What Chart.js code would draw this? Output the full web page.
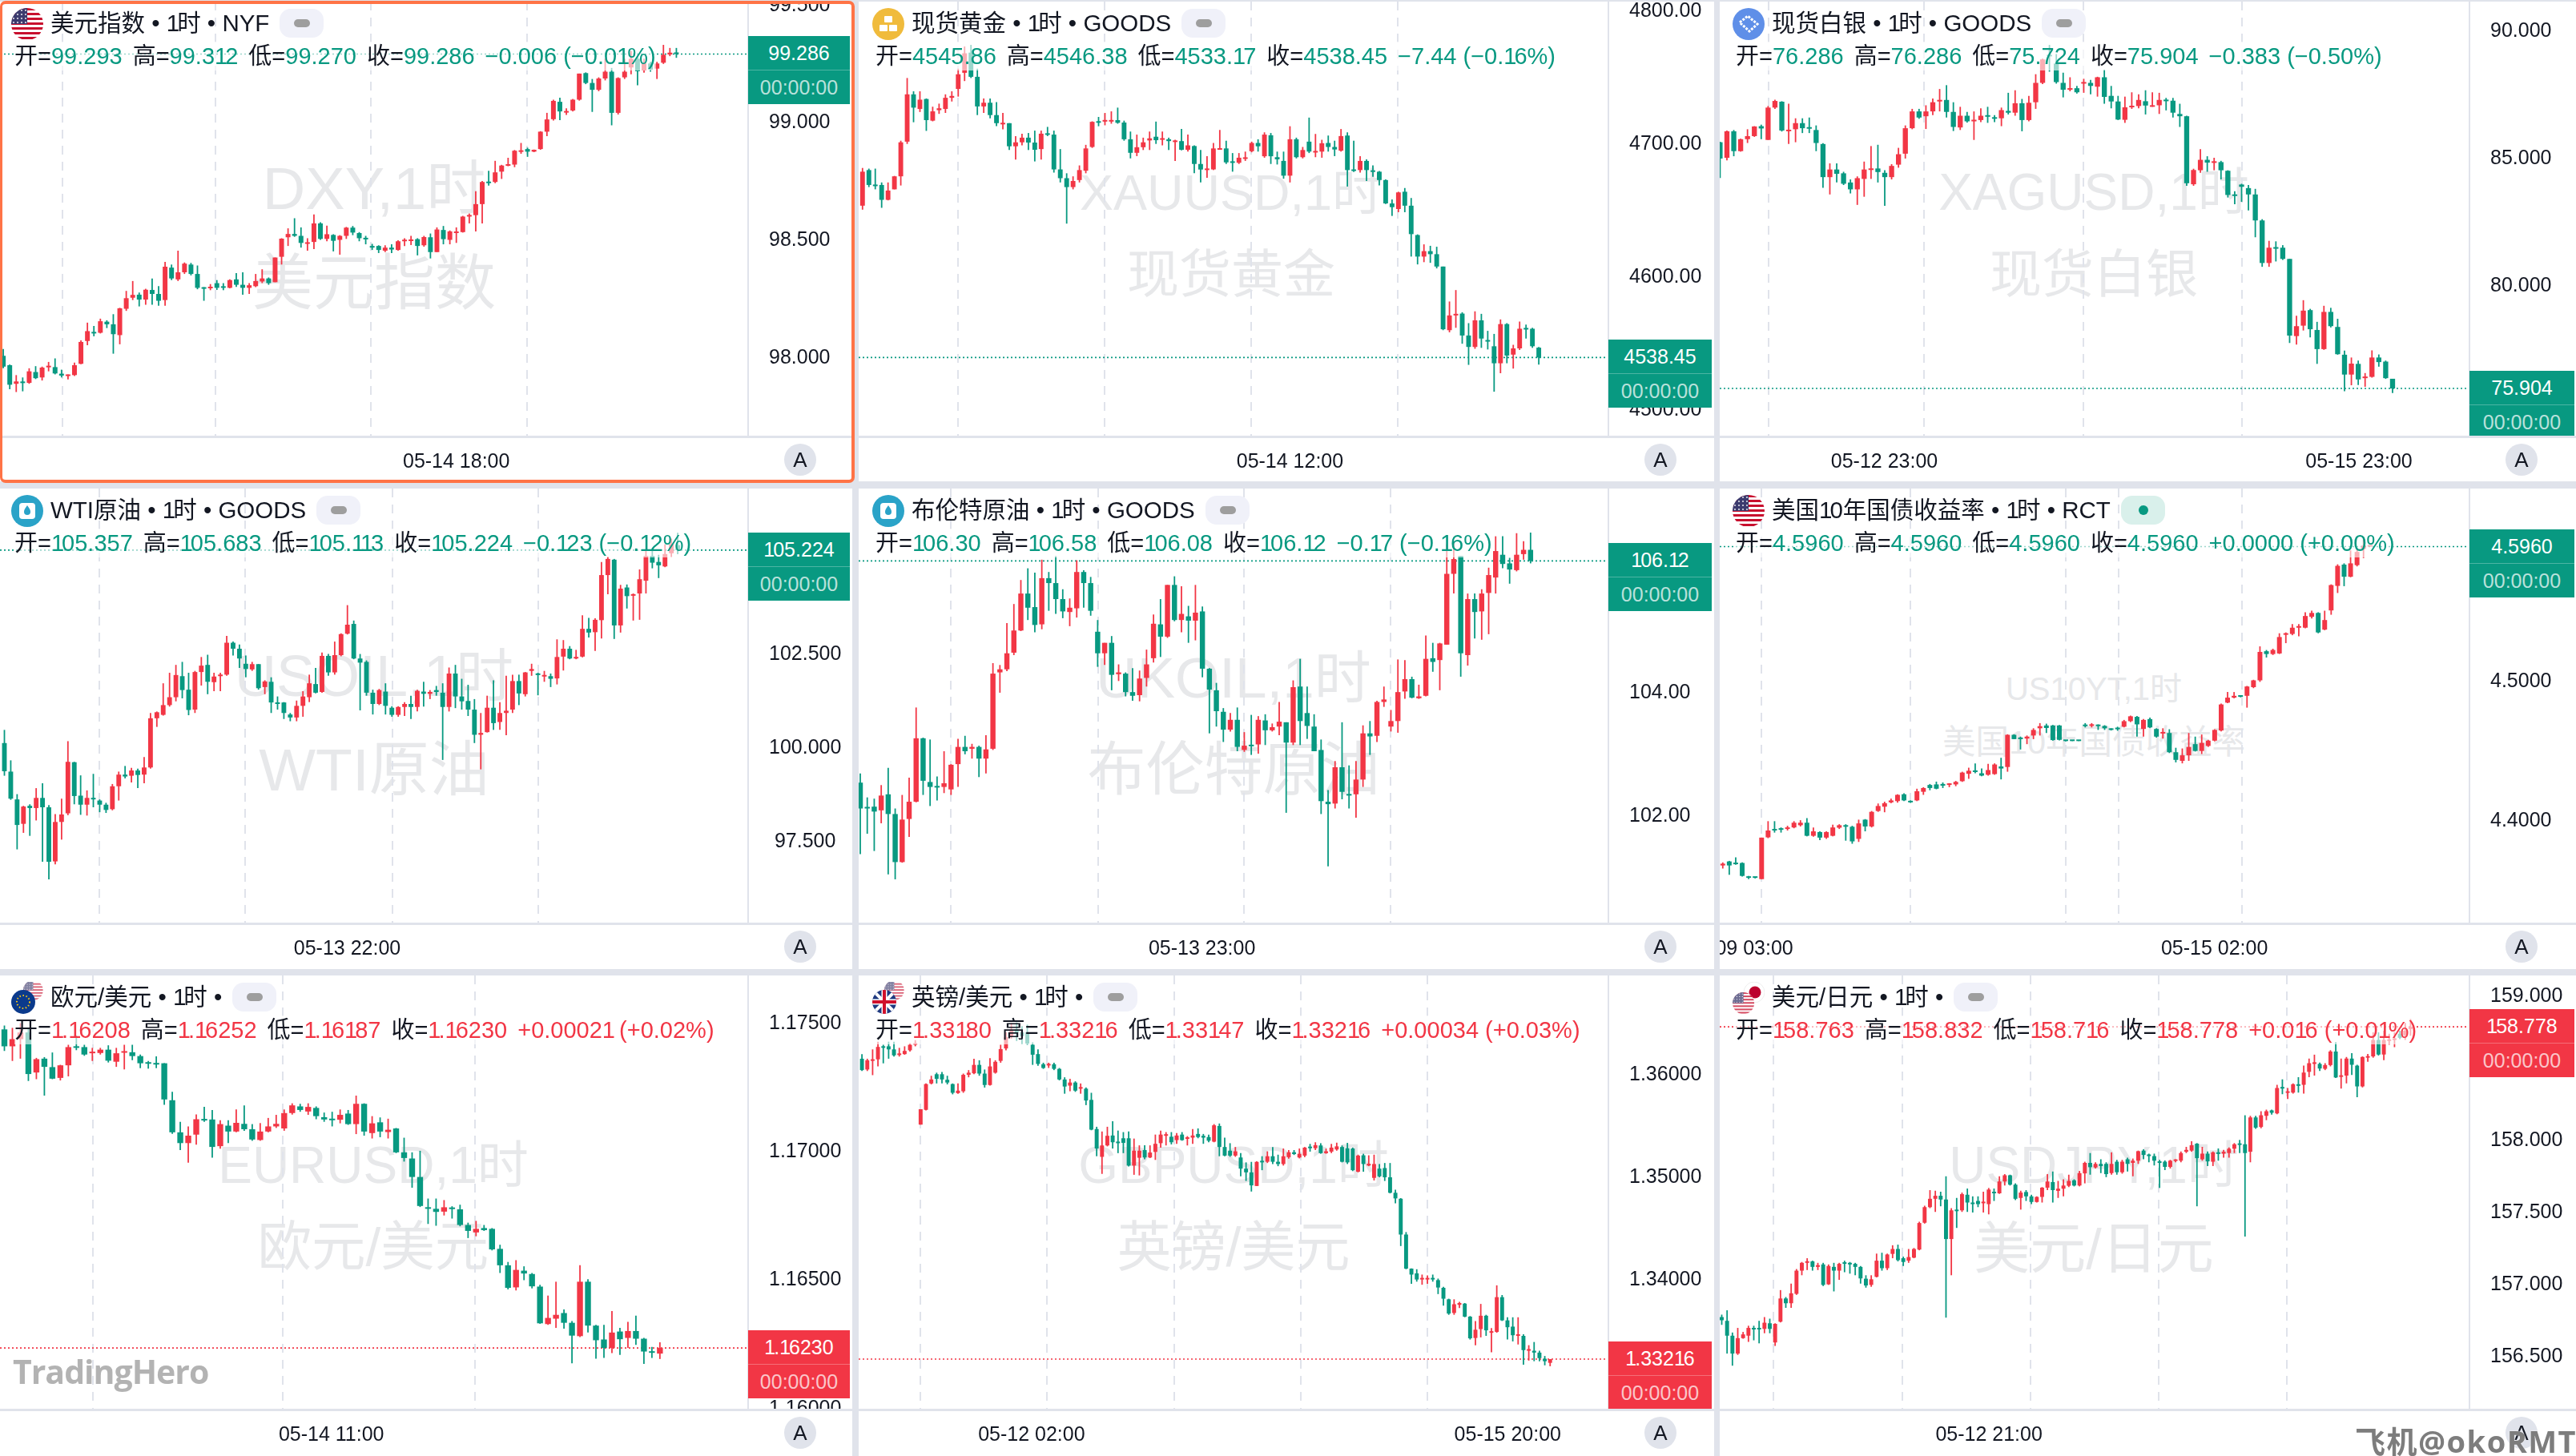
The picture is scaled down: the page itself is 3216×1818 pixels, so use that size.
<!DOCTYPE html>
<html lang="zh"><head><meta charset="utf-8">
<script src="https://cdn.jsdelivr.net/npm/chart.js@4/dist/chart.umd.min.js"></script>
<style>
html,body{margin:0;padding:0;background:#e0e3eb;width:3216px;height:1818px;overflow:hidden}
body,canvas{font-family:"Liberation Sans","Noto Sans CJK SC",sans-serif}
.panel{position:absolute;background:#fff;overflow:hidden}
.panel canvas{position:absolute;left:0;top:0;z-index:2}
.wm{position:absolute;z-index:1;color:#e7e8ea;white-space:nowrap;transform:translate(-50%,-50%);line-height:1}
.vline,.hline{position:absolute;background:#e0e3eb;z-index:3}
.head{position:absolute;z-index:5;white-space:nowrap;color:#131722;background:rgba(255,255,255,.6);line-height:36px;height:36px}
.title{font-size:29.5px;display:flex;align-items:center;background:none}
.badge{display:inline-block;width:55px;height:36px;border-radius:14px;margin-left:13px;background:#f0f1f9;position:relative;flex:none}
.badge i{position:absolute;left:18px;top:13px;width:20px;height:10px;border-radius:5px;background:#9e9e9e}
.badge.open{background:#d9f0eb}
.badge.open i{left:22px;top:12px;width:12px;height:12px;border-radius:6px;background:#089981}
.ohlc{font-size:29px}
.ohlc span{margin-right:13px}
.ohlc b{font-weight:400}
.n1{font-style:normal;letter-spacing:-3px}
.icon{position:absolute;z-index:6;width:40px;height:40px}
.tag{position:absolute;z-index:4;color:#fff;text-align:center;font-size:25px}
.tag .n1{letter-spacing:-2px}
.tag div{height:42px;line-height:42px}
.tag div+div{border-top:1px solid rgba(255,255,255,.28);color:rgba(255,255,255,.72)}
.auto{position:absolute;z-index:6;width:40px;height:40px;border-radius:20px;background:#e0e3eb;color:#131722;font-size:26px;text-align:center;line-height:40px}
#frame{position:absolute;z-index:8;left:0;top:1px;width:1060px;height:594px;border:4px solid #ff7346;border-left-width:3px;border-radius:7px}
#brand{position:absolute;z-index:9;left:16px;top:1684px;font:700 41px "Open Sans",sans-serif;color:#b3b3b3;letter-spacing:-1px}
#mark{position:absolute;z-index:9;left:2940px;top:1780px;font:700 38px/38px "Open Sans","Noto Sans CJK SC",sans-serif;color:#7d7d7d;white-space:nowrap;letter-spacing:1.5px;text-shadow:0 0 2px #fff}
</style></head><body>
<script>
// Hourly candles per instrument, one row per bar: open, high, low, close.
const dxyBars=[
[98.003,98.032,97.950,97.957],[97.963,97.966,97.861,97.880],[97.884,97.921,97.849,97.894],[97.891,97.911,97.852,97.887],[97.888,97.950,97.884,97.937],[97.934,97.959,97.904,97.908],[97.911,97.957,97.898,97.953],[97.954,97.977,97.937,97.959],[97.955,97.992,97.924,97.928],[97.927,97.944,97.911,97.919],
[97.917,97.924,97.903,97.921],[97.921,97.974,97.917,97.963],[97.969,98.069,97.967,98.062],[98.066,98.144,98.048,98.108],[98.101,98.130,98.086,98.098],[98.101,98.161,98.098,98.150],[98.148,98.154,98.121,98.137],[98.137,98.180,98.012,98.095],[98.091,98.207,98.052,98.205],[98.203,98.279,98.194,98.248],
[98.250,98.321,98.240,98.262],[98.263,98.272,98.213,98.242],[98.242,98.288,98.220,98.284],[98.283,98.332,98.220,98.266],[98.266,98.299,98.216,98.237],[98.240,98.402,98.216,98.382],[98.378,98.391,98.325,98.332],[98.328,98.450,98.321,98.358],[98.358,98.400,98.351,98.395],[98.391,98.398,98.345,98.351],
[98.351,98.387,98.286,98.292],[98.292,98.295,98.237,98.288],[98.290,98.308,98.282,98.295],[98.312,98.325,98.283,98.292],[98.297,98.312,98.282,98.292],[98.292,98.328,98.290,98.325],[98.328,98.355,98.296,98.305],[98.305,98.358,98.263,98.292],[98.292,98.312,98.266,98.303],[98.299,98.351,98.295,98.321],
[98.319,98.371,98.312,98.332],[98.332,98.336,98.305,98.312],[98.316,98.421,98.316,98.421],[98.424,98.503,98.391,98.501],[98.507,98.545,98.470,98.521],[98.521,98.588,98.509,98.513],[98.513,98.549,98.463,98.483],[98.479,98.503,98.450,98.483],[98.487,98.604,98.457,98.566],[98.566,98.571,98.496,98.500],
[98.500,98.556,98.490,98.520],[98.517,98.520,98.447,98.492],[98.496,98.516,98.433,98.513],[98.513,98.551,98.500,98.548],[98.548,98.555,98.516,98.527],[98.525,98.529,98.490,98.503],[98.501,98.513,98.477,98.498],[98.470,98.479,98.453,98.463],[98.470,98.473,98.440,98.453],[98.450,98.473,98.444,98.463],
[98.463,98.477,98.440,98.455],[98.453,98.494,98.450,98.490],[98.490,98.503,98.470,98.496],[98.491,98.513,98.474,98.496],[98.499,98.503,98.430,98.470],[98.473,98.513,98.467,98.508],[98.507,98.523,98.417,98.444],[98.444,98.549,98.444,98.540],[98.538,98.555,98.477,98.499],[98.496,98.536,98.477,98.532],
[98.525,98.549,98.483,98.529],[98.529,98.598,98.527,98.595],[98.595,98.608,98.566,98.601],[98.601,98.703,98.532,98.648],[98.648,98.746,98.566,98.742],[98.742,98.790,98.727,98.737],[98.742,98.832,98.737,98.783],[98.786,98.815,98.755,98.812],[98.811,98.845,98.809,98.816],[98.816,98.878,98.805,98.875],
[98.870,98.908,98.862,98.875],[98.882,98.888,98.849,98.871],[98.871,98.880,98.869,98.879],[98.882,98.958,98.879,98.956],[98.956,99.036,98.937,99.008],[99.009,99.092,99.003,99.087],[99.083,99.100,99.005,99.042],[99.037,99.055,99.027,99.042],[99.046,99.095,99.042,99.092],[99.092,99.203,99.088,99.203],
[99.205,99.208,99.158,99.163],[99.163,99.180,99.040,99.134],[99.134,99.187,99.128,99.182],[99.182,99.266,99.174,99.211],[99.211,99.227,98.983,99.036],[99.036,99.187,99.029,99.184],[99.187,99.266,99.180,99.211],[99.229,99.299,99.200,99.266],[99.266,99.279,99.153,99.213],[99.216,99.266,99.207,99.246],
[99.246,99.253,99.211,99.220],[99.224,99.253,99.180,99.246],[99.249,99.325,99.244,99.283],[99.284,99.312,99.277,99.292],[99.293,99.312,99.270,99.286]];
const xauBars=[
[4652.7,4681.1,4649.7,4678.3],[4679.5,4680.6,4666.7,4668.3],[4668.3,4680.6,4665.0,4667.4],[4668.3,4670.2,4651.1,4657.1],[4657.1,4670.2,4656.7,4664.1],[4665.0,4675.1,4665.0,4674.8],[4674.8,4701.6,4667.9,4700.4],[4700.9,4748.8,4699.2,4736.5],[4736.5,4738.8,4715.5,4726.5],[4725.5,4738.8,4723.2,4732.5],
[4733.0,4733.4,4709.0,4717.1],[4716.7,4727.2,4716.2,4723.7],[4724.6,4729.5,4721.8,4726.0],[4725.5,4736.5,4722.5,4733.9],[4733.9,4738.8,4731.1,4735.3],[4740.6,4755.8,4734.8,4751.6],[4752.7,4772.5,4746.5,4767.4],[4767.9,4773.7,4748.8,4749.7],[4749.7,4755.8,4720.9,4727.4],[4727.4,4733.4,4722.5,4730.2],
[4730.2,4733.4,4718.5,4720.9],[4720.9,4730.6,4712.5,4714.8],[4713.9,4722.5,4710.2,4714.8],[4714.8,4714.8,4694.6,4697.4],[4697.4,4705.1,4687.4,4700.4],[4700.4,4706.9,4698.1,4703.9],[4703.9,4707.4,4694.6,4700.2],[4700.2,4709.2,4686.0,4694.8],[4695.3,4709.2,4687.4,4706.9],[4706.9,4712.0,4705.1,4706.0],
[4706.2,4709.2,4677.6,4680.0],[4680.0,4695.3,4670.2,4673.4],[4673.4,4677.1,4639.2,4666.7],[4666.7,4674.8,4665.0,4671.3],[4672.0,4683.0,4670.2,4679.5],[4679.0,4698.5,4677.1,4695.8],[4696.9,4716.2,4696.2,4715.8],[4716.0,4719.5,4712.5,4715.1],[4716.0,4722.5,4713.2,4716.7],[4716.0,4723.7,4714.4,4716.7],
[4717.1,4726.5,4714.4,4715.1],[4715.3,4716.7,4701.6,4702.7],[4702.7,4708.5,4688.3,4692.5],[4692.5,4706.2,4690.0,4696.7],[4696.7,4703.9,4694.6,4700.4],[4701.8,4708.5,4694.6,4703.4],[4704.6,4716.0,4699.2,4702.0],[4702.3,4708.5,4698.1,4703.2],[4702.7,4703.9,4694.6,4701.3],[4700.6,4702.3,4686.4,4701.6],
[4701.3,4710.4,4694.4,4694.8],[4694.8,4706.2,4693.4,4698.1],[4697.6,4698.1,4677.1,4684.1],[4684.1,4694.6,4670.2,4679.9],[4679.5,4689.9,4673.7,4680.4],[4680.0,4699.9,4679.5,4695.8],[4694.8,4709.7,4694.8,4695.8],[4695.8,4701.6,4684.1,4685.3],[4685.8,4692.3,4678.3,4684.9],[4685.0,4692.3,4684.1,4688.8],
[4687.9,4693.4,4686.4,4688.8],[4693.7,4700.9,4692.9,4699.9],[4699.9,4702.7,4693.4,4697.4],[4689.9,4707.9,4688.8,4706.2],[4705.7,4707.4,4684.1,4689.9],[4689.2,4693.4,4683.7,4687.6],[4686.4,4693.4,4673.0,4675.3],[4675.3,4712.5,4670.2,4702.7],[4702.7,4703.9,4688.3,4689.2],[4689.2,4696.9,4688.3,4694.6],
[4700.9,4719.0,4692.3,4693.4],[4692.7,4706.7,4689.2,4693.4],[4693.4,4702.3,4688.8,4699.7],[4699.9,4705.5,4693.4,4696.9],[4696.9,4701.6,4690.0,4695.0],[4694.1,4710.4,4693.4,4705.1],[4705.5,4707.9,4667.1,4679.5],[4679.5,4701.6,4678.1,4678.8],[4679.5,4689.9,4677.6,4686.4],[4686.4,4687.6,4671.3,4679.5],
[4679.0,4683.0,4674.4,4678.1],[4678.3,4678.8,4667.9,4672.0],[4672.0,4672.5,4653.9,4654.4],[4654.4,4657.4,4645.0,4651.6],[4650.2,4663.2,4647.8,4662.7],[4663.2,4666.0,4647.8,4652.7],[4652.7,4658.5,4614.4,4631.3],[4630.6,4631.1,4608.5,4614.4],[4614.4,4623.6,4610.2,4618.5],[4618.5,4622.5,4609.7,4616.2],
[4616.2,4621.8,4605.5,4606.9],[4606.9,4606.9,4559.0,4559.7],[4559.0,4580.6,4557.4,4570.1],[4570.1,4589.2,4560.8,4571.3],[4571.5,4572.5,4548.8,4555.0],[4555.0,4564.3,4532.9,4546.4],[4546.4,4573.2,4545.0,4566.4],[4566.4,4571.3,4545.7,4552.7],[4551.5,4558.5,4544.5,4550.4],[4546.9,4556.2,4512.7,4534.1],
[4534.1,4567.1,4526.6,4563.6],[4563.6,4564.3,4534.1,4539.9],[4540.6,4548.0,4530.1,4545.3],[4545.3,4565.5,4544.1,4560.1],[4560.4,4563.2,4552.7,4559.5],[4560.1,4560.8,4545.7,4546.9],[4545.86,4546.38,4533.17,4538.45]];
const xagBars=[
[85.57,85.59,84.17,84.93],[84.96,86.03,84.86,86.00],[86.00,86.05,85.02,85.22],[85.22,85.71,85.20,85.69],[85.69,86.08,85.54,85.81],[85.81,86.20,85.78,86.19],[86.20,86.26,85.69,86.11],[85.66,86.99,85.66,86.93],[86.93,87.24,86.88,87.19],[87.16,87.18,85.99,86.03],
[86.00,87.08,85.50,86.05],[86.08,86.51,85.57,86.32],[86.32,86.51,85.93,86.12],[86.14,86.54,85.93,86.10],[86.05,86.23,85.22,85.54],[85.50,85.53,83.78,84.20],[84.20,84.74,83.52,84.50],[84.50,84.74,83.99,84.33],[84.35,84.41,83.89,83.94],[83.99,84.11,83.56,83.72],
[83.72,84.23,83.11,84.16],[84.13,84.81,83.43,84.50],[84.48,85.42,84.13,84.52],[84.54,85.47,83.99,84.40],[84.37,84.47,83.07,84.20],[84.20,84.71,84.11,84.64],[84.69,85.35,84.57,85.10],[85.12,86.23,84.93,86.12],[86.12,86.88,86.08,86.78],[86.78,86.88,86.49,86.54],
[86.59,87.02,86.09,86.78],[86.78,87.29,86.63,87.14],[87.17,87.66,86.78,87.23],[87.23,87.81,86.54,86.76],[86.76,87.14,86.01,86.17],[86.15,86.96,86.05,86.61],[86.61,86.76,86.34,86.39],[86.39,86.78,85.66,86.44],[86.44,86.90,86.36,86.61],[86.61,86.96,86.33,86.57],
[86.54,86.63,86.36,86.49],[86.51,86.93,86.20,86.83],[86.80,87.51,86.66,86.73],[86.73,87.61,86.61,87.10],[87.10,87.27,86.00,86.44],[86.44,87.39,86.39,87.12],[87.14,88.24,86.88,87.90],[87.90,88.85,87.85,88.82],[88.99,89.39,88.34,88.94],[88.66,89.03,87.87,87.93],
[87.90,88.30,87.33,87.63],[87.63,88.12,87.57,87.68],[87.69,87.78,87.48,87.53],[87.87,88.06,87.51,87.90],[87.90,88.02,87.45,87.78],[87.75,88.14,87.36,88.12],[88.12,88.42,87.08,87.35],[87.39,87.78,86.90,87.17],[87.17,87.39,86.44,86.46],[86.45,87.36,86.33,86.94],
[86.94,87.53,86.88,87.00],[86.99,87.45,86.90,87.23],[87.18,87.61,86.66,87.01],[86.96,87.53,86.96,87.02],[87.02,87.51,86.68,87.23],[87.23,87.31,86.82,87.18],[87.20,87.31,86.54,86.73],[86.68,87.08,86.17,86.59],[86.59,86.61,83.86,83.96],[83.92,84.53,83.86,84.48],
[84.47,85.30,84.37,84.88],[84.88,85.02,84.41,84.77],[84.76,84.96,84.47,84.80],[84.79,84.84,84.11,84.47],[84.45,84.47,83.40,83.50],[83.50,83.65,83.14,83.46],[83.91,83.94,83.23,83.82],[83.77,83.89,82.89,83.52],[83.52,83.74,81.84,82.50],[82.50,82.55,80.68,80.83],
[80.83,81.70,80.68,81.43],[81.41,81.68,80.89,81.39],[81.43,81.53,80.95,80.99],[80.99,80.99,77.69,77.98],[77.96,78.76,77.63,78.35],[78.37,79.37,78.18,78.96],[78.98,79.03,77.91,78.23],[78.20,78.52,76.87,77.45],[77.45,79.15,77.42,78.91],[78.91,79.07,78.30,78.35],
[78.32,78.64,77.23,77.25],[77.23,77.39,75.80,76.45],[76.45,77.12,76.03,76.88],[76.87,77.00,76.04,76.26],[76.31,76.51,75.97,76.34],[76.36,77.40,76.33,77.12],[77.12,77.24,76.76,76.94],[76.96,77.00,76.28,76.31],[76.286,76.286,75.724,75.904]];
const wtiBars=[
[100.09,100.44,99.22,99.34],[99.33,99.63,98.58,98.61],[98.59,98.73,97.26,97.91],[97.94,98.42,97.70,98.40],[98.42,98.46,97.62,98.36],[98.36,98.89,98.03,98.63],[98.63,99.02,96.93,98.38],[98.38,98.44,96.46,96.93],[96.94,98.20,96.86,97.99],[97.99,98.61,97.52,98.19],
[98.22,100.14,98.17,99.59],[99.58,99.59,98.46,98.68],[98.69,99.23,98.18,98.45],[98.45,98.83,98.16,98.63],[98.63,99.27,98.38,98.59],[98.56,98.59,98.25,98.45],[98.45,98.50,98.23,98.31],[98.33,99.00,98.30,98.94],[98.94,99.33,98.56,99.25],[99.25,99.48,99.15,99.20],
[99.22,99.43,99.04,99.36],[99.36,99.41,98.89,99.24],[99.25,99.72,99.02,99.44],[99.44,100.89,99.41,100.75],[100.75,100.93,100.52,100.91],[100.84,101.68,100.82,101.10],[101.10,101.96,101.06,101.31],[101.31,102.17,101.20,101.90],[101.87,102.25,101.28,101.50],[101.51,101.96,100.83,100.97],
[100.98,102.01,100.89,101.98],[101.98,102.38,101.62,102.15],[102.17,102.44,101.39,101.72],[101.71,101.96,101.47,101.86],[101.87,101.96,101.47,101.91],[101.91,102.94,101.88,102.76],[102.76,102.79,102.42,102.60],[102.60,102.71,102.09,102.34],[102.20,102.42,101.84,102.06],[102.05,102.25,102.01,102.19],
[102.19,102.19,101.51,101.55],[101.58,101.76,101.39,101.73],[101.72,101.84,100.89,101.17],[101.17,101.33,100.98,101.13],[101.17,101.18,100.73,100.89],[100.85,100.89,100.67,100.77],[100.77,101.22,100.67,101.08],[101.08,101.47,100.79,101.33],[101.31,101.91,101.18,101.68],[101.66,102.09,101.41,101.43],
[101.45,102.50,101.43,102.41],[102.41,102.46,101.88,101.97],[101.97,102.79,101.91,102.43],[102.43,103.01,102.40,102.99],[103.00,103.76,102.98,103.24],[103.26,103.35,102.32,102.34],[102.34,102.46,100.96,102.23],[102.25,102.29,101.35,101.43],[101.43,101.51,100.85,101.13],[101.13,101.53,101.10,101.50],
[101.46,101.68,100.85,101.08],[101.03,101.07,100.79,100.84],[100.84,101.07,100.79,101.05],[101.05,101.18,100.81,101.13],[101.13,101.35,100.73,101.05],[101.05,101.51,100.93,101.48],[101.46,101.72,101.06,101.40],[101.40,101.50,101.26,101.45],[101.50,101.61,101.35,101.45],[101.43,101.68,99.64,101.05],
[101.05,102.10,100.93,101.94],[101.94,102.17,101.02,101.33],[101.33,101.80,100.98,101.20],[101.21,101.64,100.81,100.98],[100.98,101.26,100.09,100.31],[100.31,100.89,99.39,100.36],[100.38,101.35,100.37,101.03],[101.03,101.76,100.44,100.62],[100.65,101.18,100.44,100.89],[100.89,101.88,100.30,100.95],
[100.98,101.91,100.89,101.74],[101.74,101.91,101.10,101.41],[101.39,101.98,101.33,101.97],[102.01,102.20,101.88,102.06],[101.94,101.96,101.36,101.90],[101.86,102.01,101.72,101.89],[101.87,101.94,101.58,101.80],[101.81,102.85,101.65,102.38],[102.39,102.83,102.02,102.60],[102.60,102.67,102.32,102.34],
[102.34,102.57,102.32,102.37],[102.39,103.49,102.37,103.13],[103.13,103.42,102.90,103.03],[103.04,103.41,102.54,103.37],[103.36,104.91,102.87,104.56],[104.56,105.05,104.05,104.99],[104.97,104.99,102.86,103.22],[103.22,104.30,103.03,104.20],[104.23,104.31,103.67,104.00],[104.01,104.07,103.35,104.04],
[104.07,104.71,103.37,104.45],[104.41,105.24,104.07,105.07],[105.07,105.22,104.74,104.89],[104.91,105.10,104.48,104.82],[104.79,105.38,104.77,105.12],[105.14,105.53,105.04,105.38],[105.357,105.683,105.113,105.224]];
const brentBars=[
[102.52,102.67,101.36,102.10],[102.12,102.28,101.69,102.10],[102.13,102.26,101.41,102.05],[102.07,102.48,101.86,102.31],[102.33,102.76,101.03,102.01],[102.01,102.10,100.95,101.23],[101.23,102.32,101.22,101.92],[101.93,102.60,101.64,102.21],[102.21,103.74,102.20,103.24],[103.24,103.25,102.32,102.55],
[102.53,103.22,102.14,102.45],[102.46,102.62,102.23,102.44],[102.45,103.03,102.35,102.51],[102.41,102.82,102.32,102.81],[102.82,103.23,102.45,103.10],[103.10,103.28,102.98,103.03],[103.07,103.15,102.91,103.10],[103.10,103.12,102.61,102.91],[102.91,103.29,102.67,103.06],[103.07,104.46,103.05,104.29],
[104.31,104.43,103.98,104.36],[104.36,105.11,104.33,104.62],[104.63,105.42,104.59,104.99],[104.99,105.81,104.98,105.59],[105.59,106.00,105.16,105.36],[105.37,105.93,104.96,105.08],[105.09,106.14,105.01,105.84],[105.84,105.94,105.31,105.76],[105.76,106.20,105.26,105.50],[105.50,105.66,105.19,105.30],
[105.29,105.51,105.06,105.36],[105.35,106.13,105.20,105.94],[105.94,105.97,105.36,105.76],[105.76,105.86,105.23,105.31],[104.97,105.16,104.40,104.62],[104.62,104.79,104.43,104.79],[104.79,104.90,104.02,104.27],[104.28,104.44,104.17,104.31],[104.29,104.31,103.92,103.99],[103.99,104.38,103.85,103.93],
[103.94,104.34,103.84,104.21],[104.22,104.68,104.08,104.44],[104.54,105.25,104.47,105.10],[105.09,105.50,104.56,104.89],[104.89,105.73,104.87,105.73],[105.73,105.87,105.14,105.16],[105.16,105.71,104.96,105.26],[105.22,105.39,104.79,105.15],[105.15,105.73,104.83,105.28],[105.30,105.38,104.23,104.37],
[104.37,104.38,103.32,104.03],[104.02,104.14,103.43,103.68],[103.67,103.73,103.18,103.38],[103.38,103.65,103.35,103.54],[103.54,103.74,103.03,103.10],[103.05,103.34,103.02,103.12],[103.13,103.62,102.97,103.11],[103.14,103.60,102.99,103.54],[103.53,103.63,103.13,103.37],[103.37,103.48,103.35,103.42],
[103.43,103.83,103.29,103.51],[103.50,103.50,102.03,103.17],[103.17,104.18,103.13,104.07],[104.08,104.53,103.13,103.52],[103.65,104.08,103.23,103.44],[103.43,103.63,103.03,103.03],[103.05,103.22,102.01,102.22],[102.21,102.40,101.16,102.17],[102.18,102.87,102.10,102.77],[102.77,103.50,102.25,102.37],
[102.33,102.80,102.10,102.31],[102.33,102.87,101.95,102.57],[102.57,103.45,102.45,103.32],[103.32,103.52,102.97,103.27],[103.28,103.85,103.18,103.83],[103.83,104.08,103.75,103.87],[103.43,103.70,103.35,103.52],[103.52,104.52,103.33,103.99],[104.00,104.51,103.88,104.20],[104.20,104.24,103.89,103.90],
[103.89,104.11,103.88,103.92],[103.93,104.91,103.92,104.53],[104.54,104.79,104.32,104.48],[104.51,104.79,104.02,104.78],[104.76,106.39,104.76,105.91],[105.91,106.44,105.59,106.15],[106.20,106.20,104.24,104.62],[104.59,105.59,104.42,105.50],[105.50,105.59,104.86,105.29],[105.30,105.66,104.84,105.59],
[105.60,106.01,104.93,105.89],[105.85,106.52,105.59,106.28],[106.22,106.52,106.00,106.07],[106.08,106.17,105.75,105.98],[105.97,106.57,105.95,106.22],[106.23,106.44,106.14,106.30],[106.30,106.58,106.08,106.12]];
const us10yBars=[
[4.3671,4.3693,4.3649,4.3684],[4.3700,4.3704,4.3604,4.3671],[4.3689,4.3729,4.3676,4.3680],[4.3689,4.3693,4.3591,4.3596],[4.3589,4.3596,4.3573,4.3582],[4.3587,4.3589,4.3578,4.3582],[4.3573,4.3871,4.3573,4.3871],[4.3873,4.3989,4.3867,4.3922],[4.3933,4.3989,4.3907,4.3922],[4.3938,4.3944,4.3907,4.3927],
[4.3933,4.3956,4.3922,4.3944],[4.3944,4.3989,4.3938,4.3978],[4.3960,4.3996,4.3951,4.3978],[4.3978,4.4011,4.3880,4.3884],[4.3884,4.3944,4.3878,4.3916],[4.3911,4.3916,4.3853,4.3871],[4.3871,4.3916,4.3862,4.3911],[4.3884,4.3964,4.3880,4.3944],[4.3942,4.3967,4.3933,4.3960],[4.3960,4.3967,4.3849,4.3949],
[4.3949,4.3956,4.3827,4.3844],[4.3862,4.4000,4.3840,4.3973],[4.4000,4.4004,4.3916,4.3951],[4.3951,4.4062,4.3944,4.4056],[4.4062,4.4116,4.4056,4.4098],[4.4093,4.4129,4.4053,4.4118],[4.4124,4.4151,4.4118,4.4138],[4.4133,4.4182,4.4122,4.4178],[4.4182,4.4189,4.4133,4.4138],[4.4133,4.4138,4.4120,4.4124],
[4.4138,4.4222,4.4133,4.4204],[4.4200,4.4233,4.4178,4.4227],[4.4249,4.4256,4.4211,4.4227],[4.4253,4.4273,4.4218,4.4222],[4.4256,4.4267,4.4227,4.4244],[4.4249,4.4262,4.4233,4.4256],[4.4253,4.4278,4.4240,4.4271],[4.4276,4.4344,4.4271,4.4338],[4.4329,4.4373,4.4293,4.4351],[4.4351,4.4404,4.4333,4.4342],
[4.4333,4.4367,4.4311,4.4316],[4.4322,4.4400,4.4316,4.4356],[4.4327,4.4404,4.4322,4.4396],[4.4382,4.4444,4.4289,4.4367],[4.4378,4.4613,4.4344,4.4609],[4.4609,4.4613,4.4578,4.4578],[4.4589,4.4596,4.4504,4.4578],[4.4582,4.4604,4.4542,4.4596],[4.4604,4.4656,4.4578,4.4644],[4.4656,4.4693,4.4604,4.4671],
[4.4676,4.4689,4.4622,4.4658],[4.4676,4.4680,4.4567,4.4571],[4.4676,4.4680,4.4569,4.4573],[4.4569,4.4571,4.4562,4.4564],[4.4569,4.4571,4.4564,4.4564],[4.4569,4.4571,4.4564,4.4564],[4.4682,4.4693,4.4662,4.4671],[4.4673,4.4693,4.4662,4.4682],[4.4678,4.4684,4.4644,4.4671],[4.4673,4.4678,4.4644,4.4656],
[4.4651,4.4656,4.4640,4.4644],[4.4658,4.4667,4.4638,4.4649],[4.4667,4.4716,4.4662,4.4707],[4.4707,4.4747,4.4700,4.4742],[4.4738,4.4744,4.4596,4.4684],[4.4651,4.4722,4.4596,4.4716],[4.4722,4.4733,4.4656,4.4662],[4.4651,4.4656,4.4589,4.4596],[4.4618,4.4656,4.4582,4.4622],[4.4622,4.4649,4.4478,4.4484],
[4.4484,4.4516,4.4411,4.4429],[4.4422,4.4511,4.4404,4.4462],[4.4462,4.4622,4.4422,4.4522],[4.4542,4.4596,4.4489,4.4493],[4.4493,4.4611,4.4471,4.4551],[4.4529,4.4573,4.4522,4.4567],[4.4567,4.4649,4.4562,4.4644],[4.4640,4.4833,4.4633,4.4827],[4.4840,4.4916,4.4836,4.4876],[4.4876,4.4916,4.4871,4.4889],
[4.4889,4.4893,4.4878,4.4882],[4.4889,4.4960,4.4804,4.4956],[4.4951,4.5004,4.4944,4.5000],[4.5000,4.5244,4.4989,4.5204],[4.5209,4.5218,4.5164,4.5189],[4.5189,4.5227,4.5182,4.5218],[4.5193,4.5338,4.5189,4.5311],[4.5327,4.5344,4.5267,4.5338],[4.5333,4.5404,4.5324,4.5378],[4.5378,4.5404,4.5316,4.5389],
[4.5378,4.5489,4.5373,4.5462],[4.5456,4.5500,4.5444,4.5484],[4.5484,4.5489,4.5338,4.5344],[4.5364,4.5500,4.5360,4.5433],[4.5502,4.5689,4.5471,4.5684],[4.5678,4.5833,4.5627,4.5822],[4.5831,4.5840,4.5676,4.5744],[4.5744,4.5933,4.5740,4.5840],[4.5827,4.5944,4.5818,4.5922],[4.5944,4.6011,4.5878,4.5967],[4.5960,4.5960,4.5960,4.5960]];
const eurBars=[
[1.17471,1.17486,1.17387,1.17405],[1.17405,1.17477,1.17348,1.17433],[1.17433,1.17495,1.17357,1.17459],[1.17459,1.17477,1.17270,1.17297],[1.17303,1.17360,1.17277,1.17355],[1.17357,1.17363,1.17213,1.17325],[1.17324,1.17381,1.17277,1.17279],[1.17282,1.17333,1.17272,1.17331],[1.17331,1.17411,1.17288,1.17402],[1.17405,1.17447,1.17390,1.17399],
[1.17402,1.17411,1.17368,1.17373],[1.17378,1.17399,1.17348,1.17382],[1.17379,1.17399,1.17373,1.17392],[1.17392,1.17409,1.17342,1.17349],[1.17345,1.17399,1.17325,1.17378],[1.17380,1.17411,1.17315,1.17385],[1.17382,1.17411,1.17351,1.17367],[1.17367,1.17373,1.17320,1.17339],[1.17342,1.17348,1.17318,1.17337],[1.17339,1.17366,1.17320,1.17334],
[1.17339,1.17339,1.17177,1.17198],[1.17195,1.17228,1.17064,1.17070],[1.17070,1.17111,1.17001,1.17028],[1.17028,1.17093,1.16952,1.17057],[1.17061,1.17140,1.17022,1.17121],[1.17122,1.17169,1.17111,1.17116],[1.17120,1.17157,1.16971,1.17013],[1.17016,1.17117,1.17006,1.17102],[1.17096,1.17117,1.17028,1.17073],[1.17073,1.17159,1.17070,1.17107],
[1.17103,1.17175,1.17076,1.17082],[1.17082,1.17102,1.17037,1.17042],[1.17040,1.17106,1.17037,1.17073],[1.17073,1.17126,1.17070,1.17093],[1.17093,1.17138,1.17087,1.17103],[1.17085,1.17159,1.17076,1.17145],[1.17145,1.17183,1.17139,1.17175],[1.17171,1.17181,1.17150,1.17157],[1.17151,1.17183,1.17138,1.17169],[1.17165,1.17171,1.17121,1.17133],
[1.17129,1.17147,1.17111,1.17120],[1.17121,1.17150,1.17093,1.17117],[1.17119,1.17159,1.17105,1.17138],[1.17143,1.17157,1.17099,1.17102],[1.17102,1.17213,1.17063,1.17181],[1.17181,1.17183,1.17057,1.17073],[1.17067,1.17133,1.17046,1.17105],[1.17109,1.17128,1.17051,1.17073],[1.17071,1.17123,1.17046,1.17080],[1.17085,1.17087,1.16989,1.16992],
[1.16992,1.17049,1.16956,1.16970],[1.16968,1.16992,1.16854,1.16896],[1.16896,1.16998,1.16779,1.16783],[1.16778,1.16812,1.16713,1.16772],[1.16772,1.16812,1.16706,1.16760],[1.16761,1.16806,1.16746,1.16778],[1.16776,1.16782,1.16734,1.16771],[1.16770,1.16788,1.16704,1.16709],[1.16709,1.16718,1.16658,1.16686],[1.16680,1.16725,1.16665,1.16694],
[1.16697,1.16709,1.16686,1.16689],[1.16694,1.16697,1.16610,1.16614],[1.16616,1.16632,1.16522,1.16552],[1.16552,1.16565,1.16458,1.16464],[1.16466,1.16572,1.16454,1.16534],[1.16531,1.16548,1.16494,1.16520],[1.16518,1.16522,1.16462,1.16470],[1.16469,1.16476,1.16324,1.16326],[1.16323,1.16434,1.16320,1.16347],[1.16344,1.16488,1.16308,1.16359],
[1.16366,1.16380,1.16305,1.16328],[1.16328,1.16335,1.16170,1.16278],[1.16276,1.16552,1.16272,1.16488],[1.16488,1.16498,1.16290,1.16317],[1.16317,1.16320,1.16188,1.16260],[1.16263,1.16320,1.16191,1.16230],[1.16230,1.16374,1.16210,1.16290],[1.16294,1.16308,1.16203,1.16264],[1.16269,1.16332,1.16230,1.16296],[1.16296,1.16356,1.16242,1.16266],
[1.16266,1.16269,1.16168,1.16216],[1.16216,1.16234,1.16191,1.16211],[1.16208,1.16252,1.16187,1.16230]];
const gbpBars=[
[1.36143,1.36188,1.36023,1.36032],[1.36038,1.36143,1.36023,1.36128],[1.36122,1.36234,1.35983,1.36134],[1.36137,1.36309,1.36068,1.36258],[1.36264,1.36279,1.36098,1.36249],[1.36264,1.36309,1.36143,1.36234],[1.36234,1.36309,1.36164,1.36176],[1.36179,1.36249,1.36164,1.36194],[1.36188,1.36264,1.36182,1.36219],[1.36225,1.36294,1.36213,1.36279],
[1.36279,1.36324,1.36264,1.36294],[1.35501,1.35651,1.35501,1.35651],[1.35645,1.35902,1.35639,1.35896],[1.35902,1.35977,1.35893,1.35941],[1.35992,1.36007,1.35902,1.35947],[1.35992,1.36013,1.35902,1.35941],[1.35938,1.35977,1.35893,1.35911],[1.35896,1.35902,1.35796,1.35811],[1.35808,1.35902,1.35802,1.35832],[1.35826,1.35998,1.35811,1.35986],
[1.35986,1.36032,1.35962,1.36007],[1.36001,1.36143,1.35992,1.36083],[1.36083,1.36128,1.35977,1.35998],[1.35998,1.36038,1.35862,1.35887],[1.35887,1.36149,1.35881,1.36068],[1.36007,1.36128,1.35998,1.36113],[1.36122,1.36279,1.36104,1.36237],[1.36243,1.36400,1.36225,1.36354],[1.36363,1.36490,1.36339,1.36415],[1.36430,1.36496,1.36315,1.36400],
[1.36400,1.36460,1.36285,1.36363],[1.36400,1.36475,1.36279,1.36291],[1.36279,1.36303,1.36083,1.36182],[1.36188,1.36234,1.36074,1.36092],[1.36089,1.36104,1.36044,1.36053],[1.36077,1.36104,1.36053,1.36089],[1.36089,1.36104,1.36032,1.36044],[1.36044,1.36053,1.35932,1.35941],[1.35941,1.35962,1.35802,1.35872],[1.35881,1.35947,1.35826,1.35911],
[1.35911,1.35923,1.35820,1.35832],[1.35851,1.35902,1.35802,1.35863],[1.35851,1.35863,1.35691,1.35736],[1.35742,1.35811,1.35446,1.35452],[1.35458,1.35480,1.35193,1.35268],[1.35187,1.35434,1.35021,1.35298],[1.35298,1.35480,1.35289,1.35392],[1.35395,1.35534,1.35268,1.35329],[1.35335,1.35443,1.35223,1.35320],[1.35368,1.35428,1.35223,1.35323],
[1.35368,1.35434,1.35093,1.35102],[1.35102,1.35365,1.35012,1.35247],[1.35178,1.35299,1.35006,1.35247],[1.35253,1.35299,1.35163,1.35181],[1.35181,1.35299,1.35175,1.35229],[1.35235,1.35404,1.35157,1.35314],[1.35320,1.35443,1.35277,1.35404],[1.35392,1.35428,1.35298,1.35404],[1.35383,1.35428,1.35308,1.35329],[1.35350,1.35419,1.35314,1.35395],
[1.35404,1.35428,1.35344,1.35350],[1.35362,1.35389,1.35298,1.35374],[1.35374,1.35458,1.35314,1.35395],[1.35410,1.35464,1.35368,1.35380],[1.35392,1.35410,1.35314,1.35374],[1.35380,1.35404,1.35329,1.35344],[1.35335,1.35506,1.35329,1.35494],[1.35488,1.35512,1.35193,1.35283],[1.35283,1.35374,1.35193,1.35199],[1.35247,1.35320,1.35187,1.35199],
[1.35199,1.35283,1.35187,1.35241],[1.35181,1.35223,1.34997,1.35072],[1.35072,1.35133,1.34952,1.35036],[1.35036,1.35138,1.34849,1.34909],[1.34903,1.35144,1.34903,1.35138],[1.35148,1.35193,1.35057,1.35133],[1.35139,1.35241,1.35127,1.35193],[1.35193,1.35283,1.35117,1.35139],[1.35139,1.35208,1.35096,1.35117],[1.35117,1.35268,1.35102,1.35193],
[1.35184,1.35253,1.35169,1.35232],[1.35232,1.35253,1.35205,1.35214],[1.35181,1.35268,1.35172,1.35217],[1.35199,1.35283,1.35184,1.35277],[1.35283,1.35313,1.35238,1.35271],[1.35271,1.35329,1.35253,1.35301],[1.35298,1.35320,1.35217,1.35223],[1.35223,1.35268,1.35217,1.35241],[1.35238,1.35313,1.35223,1.35277],[1.35259,1.35325,1.35247,1.35289],
[1.35283,1.35298,1.35133,1.35139],[1.35271,1.35323,1.35117,1.35133],[1.35268,1.35277,1.35048,1.35057],[1.35042,1.35208,1.35036,1.35199],[1.35202,1.35217,1.35042,1.35117],[1.35102,1.35202,1.35096,1.35120],[1.34982,1.35208,1.34957,1.35117],[1.35072,1.35117,1.34988,1.34997],[1.35078,1.35127,1.34952,1.34988],[1.34988,1.35127,1.34831,1.34837],
[1.34837,1.34867,1.34734,1.34782],[1.34779,1.34785,1.34318,1.34430],[1.34430,1.34454,1.34092,1.34098],[1.34098,1.34101,1.33950,1.34040],[1.34052,1.34092,1.33971,1.33992],[1.33992,1.34040,1.33941,1.34004],[1.33992,1.34031,1.33950,1.34004],[1.34004,1.34040,1.33971,1.33992],[1.33986,1.34001,1.33850,1.33914],[1.33911,1.33920,1.33738,1.33805],
[1.33799,1.33805,1.33648,1.33660],[1.33666,1.33799,1.33648,1.33751],[1.33745,1.33775,1.33714,1.33763],[1.33757,1.33763,1.33624,1.33630],[1.33630,1.33636,1.33407,1.33419],[1.33422,1.33588,1.33352,1.33503],[1.33509,1.33754,1.33428,1.33639],[1.33639,1.33648,1.33443,1.33497],[1.33473,1.33518,1.33283,1.33485],[1.33482,1.33935,1.33473,1.33820],
[1.33820,1.33841,1.33588,1.33594],[1.33594,1.33624,1.33407,1.33527],[1.33533,1.33624,1.33389,1.33449],[1.33443,1.33624,1.33359,1.33455],[1.33443,1.33458,1.33162,1.33304],[1.33298,1.33352,1.33202,1.33310],[1.33298,1.33383,1.33196,1.33280],[1.33280,1.33298,1.33196,1.33226],[1.33220,1.33247,1.33156,1.33196],[1.33180,1.33216,1.33147,1.33216]];
const jpyBars=[
[156.766,156.783,156.712,156.744],[156.740,156.813,156.513,156.637],[156.637,156.659,156.429,156.513],[156.513,156.691,156.504,156.620],[156.620,156.663,156.616,156.646],[156.637,156.706,156.594,156.691],[156.691,156.706,156.605,156.680],[156.686,156.740,156.584,156.680],[156.684,156.766,156.654,156.727],[156.723,156.755,156.654,156.684],
[156.590,156.723,156.566,156.719],[156.734,156.953,156.729,156.895],[156.895,156.905,156.830,156.862],[156.862,156.998,156.830,156.931],[156.927,157.099,156.920,157.088],[157.088,157.148,157.056,157.142],[157.142,157.174,157.092,157.152],[157.152,157.157,157.088,157.114],[157.114,157.142,157.092,157.126],[157.131,157.142,156.981,156.989],
[156.993,157.131,156.989,157.120],[157.114,157.142,156.944,157.088],[157.088,157.142,157.024,157.135],[157.146,157.157,157.077,157.135],[157.139,157.148,157.067,157.131],[157.135,157.142,157.056,157.114],[157.114,157.120,156.998,157.034],[157.032,157.056,156.970,156.985],[156.989,157.056,156.976,157.028],[157.045,157.206,157.041,157.157],
[157.157,157.212,157.088,157.105],[157.105,157.206,157.092,157.200],[157.204,157.264,157.174,157.238],[157.238,157.268,157.152,157.161],[157.174,157.185,157.120,157.148],[157.157,157.238,157.142,157.182],[157.178,157.245,157.174,157.238],[157.234,157.427,157.229,157.418],[157.420,157.538,157.414,157.528],[157.528,157.646,157.521,157.586],
[157.586,157.642,157.495,157.607],[157.607,157.635,157.534,157.581],[157.581,157.742,156.762,157.307],[157.307,157.521,157.056,157.506],[157.510,157.592,157.384,157.500],[157.506,157.629,157.495,157.618],[157.614,157.657,157.495,157.560],[157.560,157.603,157.491,157.549],[157.571,157.603,157.528,157.549],[157.555,157.635,157.491,157.564],
[157.549,157.661,157.478,157.650],[157.635,157.657,157.571,157.624],[157.624,157.742,157.620,157.706],[157.706,157.757,157.678,157.749],[157.749,157.753,157.678,157.684],[157.684,157.693,157.577,157.586],[157.592,157.642,157.511,157.629],[157.633,157.646,157.571,157.603],[157.603,157.614,157.549,157.564],[157.564,157.603,157.560,157.599],
[157.599,157.667,157.560,157.663],[157.663,157.757,157.646,157.706],[157.702,157.775,157.560,157.646],[157.641,157.710,157.592,157.656],[157.656,157.721,157.603,157.678],[157.676,157.753,157.667,157.710],[157.714,157.721,157.672,157.678],[157.678,157.779,157.672,157.764],[157.762,157.843,157.693,157.835],[157.835,157.903,157.753,157.805],
[157.803,157.839,157.796,157.828],[157.828,157.860,157.764,157.813],[157.828,157.839,157.736,157.757],[157.764,157.908,157.753,157.828],[157.843,157.856,157.753,157.770],[157.770,157.856,157.760,157.843],[157.860,157.871,157.775,157.828],[157.835,157.865,157.742,157.850],[157.850,157.920,157.828,157.916],[157.920,157.929,157.860,157.890],
[157.890,157.899,157.839,157.882],[157.882,157.899,157.817,157.850],[157.843,157.856,157.661,157.835],[157.843,157.852,157.785,157.807],[157.807,157.856,157.796,157.850],[157.848,157.860,157.839,157.856],[157.850,157.914,157.839,157.903],[157.912,157.946,157.903,157.925],[157.920,157.985,157.912,157.957],[157.968,157.972,157.534,157.867],
[157.860,157.946,157.850,157.899],[157.899,157.914,157.813,157.845],[157.843,157.914,157.813,157.908],[157.908,157.935,157.850,157.897],[157.899,157.925,157.871,157.912],[157.903,157.942,157.871,157.933],[157.933,157.972,157.903,157.964],[157.968,157.994,157.903,157.959],[157.964,158.165,157.324,157.903],[157.912,158.161,157.839,158.150],
[158.150,158.161,158.071,158.079],[158.084,158.193,158.075,158.165],[158.161,158.204,158.131,158.193],[158.199,158.204,158.169,158.182],[158.178,158.376,158.172,158.354],[158.360,158.414,158.311,158.350],[158.320,158.354,158.277,158.328],[158.322,158.386,158.315,158.380],[158.376,158.429,158.322,158.369],[158.376,158.509,158.315,158.461],
[158.466,158.558,158.429,158.526],[158.521,158.585,158.440,158.530],[158.521,158.530,158.472,158.489],[158.487,158.526,158.478,158.513],[158.513,158.616,158.504,158.607],[158.607,158.672,158.423,158.427],[158.431,158.558,158.350,158.440],[158.440,158.569,158.386,158.558],[158.558,158.595,158.444,158.515],[158.509,158.515,158.290,158.365],
[158.365,158.573,158.358,158.569],[158.564,158.590,158.536,158.573],[158.573,158.740,158.564,158.687],[158.687,158.740,158.579,158.586],[158.586,158.751,158.547,158.687],[158.680,158.730,158.654,158.687],[158.687,158.740,158.637,158.693],[158.730,158.751,158.693,158.702],[158.719,158.805,158.687,158.751],[158.763,158.832,158.716,158.778]];

const RED='#f23645',GREEN='#089981';
// One entry per grid cell, left to right and top to bottom.
const panels=[
{bars:dxyBars,title:'美元指数 • 1时 • NYF',icon:'us',wm:['DXY,1时','美元指数'],wmSize:[74,76],wmAt:[467,234,352],change:'−0.006 (−0.01%)',dec:3,yMin:97.660,yMax:99.509,yTicks:[98,98.5,99,99.5],x0:4.1,step:8.08,grid:[9.14,32.83,56.85,80.88],times:[[70,'05-14 18:00']]},
{bars:xauBars,title:'现货黄金 • 1时 • GOODS',icon:'gold',wm:['XAUUSD,1时','现货黄金'],wmSize:[63,65],wmAt:[465,238,340],change:'−7.44 (−0.16%)',dec:2,yMin:4479,yMax:4806.3,yTicks:[4500,4600,4700,4800],x0:4.8,step:7.965,grid:[15.02,37.94,60.94,83.86],times:[[67,'05-14 12:00']]},
{bars:xagBars,title:'现货白银 • 1时 • GOODS',icon:'silver',wm:['XAGUSD,1时','现货白银'],wmSize:[64,65],wmAt:[467,238,340],change:'−0.383 (−0.50%)',dec:3,yMin:74.02,yMax:91.09,yTicks:[80,85,90],x0:.4,step:8.567,grid:[7.02,29.77,52.9,76.06],times:[[23.94,'05-12 23:00'],[93.1,'05-15 23:00']]},
{bars:wtiBars,title:'WTI原油 • 1时 • GOODS',icon:'oil',wm:['USOIL,1时','WTI原油'],wmSize:[72,75],wmAt:[467,234,351],change:'−0.123 (−0.12%)',dec:3,yMin:95.29,yMax:106.863,yTicks:[97.5,100,102.5],x0:5.5,step:7.93,grid:[14.9,37.84,61.1,84.05],times:[[53.97,'05-13 22:00']]},
{bars:brentBars,title:'布伦特原油 • 1时 • GOODS',icon:'oil',wm:['UKOIL,1时','布伦特原油'],wmSize:[71,73],wmAt:[468,236,350],change:'−0.17 (−0.16%)',dec:2,yMin:100.234,yMax:107.295,yTicks:[102,104],x0:2,step:8.717,grid:[12.94,34.04,54.9,76],times:[[48.94,'05-13 23:00']]},
{bars:us10yBars,title:'美国10年国债收益率 • 1时 • RCT',icon:'us',badgeOpen:true,wm:['US10YT,1时','美国10年国债收益率'],wmSize:[40,41.5],wmAt:[467,250,317],change:'+0.0000 (+0.00%)',dec:4,yMin:4.3255,yMax:4.6377,yTicks:[4.4,4.5],x0:3.8,step:8.08,grid:[5.92,29,52.96,61.17,80.2],times:[[2.62,'05-09 03:00'],[75.97,'05-15 02:00']]},
{bars:eurBars,up:true,title:'欧元/美元 • 1时 •',icon:'eur',wm:['EURUSD,1时','欧元/美元'],wmSize:[64,67.5],wmAt:[466,237,339],change:'+0.00021 (+0.02%)',dec:5,yMin:1.1599,yMax:1.17681,yTicks:[1.16,1.165,1.17,1.175],x0:5.5,step:9.98,grid:[11.03,34.86,58.9],times:[[40.9,'05-14 11:00']]},
{bars:gbpBars,up:true,title:'英镑/美元 • 1时 •',icon:'gbp',wm:['GBPUSD,1时','英镑/美元'],wmSize:[64,68],wmAt:[468,237,339],change:'+0.00034 (+0.03%)',dec:5,yMin:1.32725,yMax:1.36954,yTicks:[1.34,1.35,1.36],x0:4.1,step:6.66,grid:[10.88,34.6,58.6,82.3,106.06],times:[[31.8,'05-12 02:00'],[121.05,'05-15 20:00']]},
{bars:jpyBars,up:true,title:'美元/日元 • 1时 •',icon:'jpy',wm:['USDJPY,1时','美元/日元'],wmSize:[64,70],wmAt:[467,237,342],change:'+0.016 (+0.01%)',dec:3,yMin:156.125,yMax:159.134,yTicks:[156.5,157,157.5,158,159],x0:2.5,step:6.666,grid:[9.74,33.85,57.85,81.85,105.85],times:[[50.05,'05-12 21:00']]}
];

const colLeft=[0,1072,2147],colRight=[1064,2140,3216],axisX=[934,936,936];
const rowTop=[2,610,1218],rowBottom=[601,1210,1818],plotBottom=[543,543,542];
const FONT_FAMILY='"Liberation Sans","Noto Sans CJK SC",sans-serif';

function flagUS(id){let s=`<clipPath id="${id}"><circle cx="20" cy="20" r="20"/></clipPath><g clip-path="url(#${id})"><rect width="40" height="40" fill="#fff"/>`;
 for(let i=0;i<7;i++)s+=`<rect y="${i*6}" width="40" height="3" fill="#c8102e"/>`;
 s+=`<rect width="20" height="20" fill="#3c3b6e"/>`;
 for(let a=0;a<4;a++)for(let b=0;b<4;b++)s+=`<circle cx="${3+b*5}" cy="${3+a*5}" r=".9" fill="#fff"/>`;
 return s+'</g>';}
const ICONS={
 us:id=>flagUS(id),
 gold:()=>`<circle cx="20" cy="20" r="20" fill="#f0bb3c"/><rect x="15" y="10" width="10" height="8" rx="1" fill="#fff"/><rect x="9" y="21" width="10" height="8" rx="1" fill="#fff"/><rect x="21" y="21" width="10" height="8" rx="1" fill="#fff"/>`,
 silver:()=>`<circle cx="20" cy="20" r="20" fill="#5f8fe8"/><path d="M9 18l10-8 12 10-10 9z" fill="none" stroke="#fff" stroke-width="3" stroke-dasharray="3 1.5"/>`,
 oil:()=>`<circle cx="20" cy="20" r="20" fill="#2aa3c8"/><rect x="10" y="10" width="20" height="20" rx="4" fill="#fff"/><path d="M20 13c3 4 4 6 4 8a4 4 0 0 1-8 0c0-2 1-4 4-8z" fill="#2aa3c8"/>`,
 eur:id=>`<g transform="translate(15 -2) scale(.62)" opacity=".65">${flagUS(id)}</g><circle cx="15" cy="25" r="15" fill="#0b3a8c"/><circle cx="15" cy="25" r="8" fill="none" stroke="#f5c518" stroke-width="2" stroke-dasharray="1.5 2.6"/>`,
 gbp:id=>`<g transform="translate(15 -2) scale(.62)" opacity=".65">${flagUS(id)}</g><clipPath id="${id}b"><circle cx="15" cy="25" r="15"/></clipPath><g clip-path="url(#${id}b)"><rect y="10" width="30" height="30" fill="#1f3a80"/><path d="M0 10l30 30M30 10L0 40" stroke="#fff" stroke-width="4"/><path d="M15 10v30M0 25h30" stroke="#fff" stroke-width="7"/><path d="M15 10v30M0 25h30" stroke="#d0112b" stroke-width="4"/></g>`,
 jpy:id=>`<circle cx="27" cy="13" r="13" fill="#fff" stroke="#eee"/><circle cx="28" cy="13" r="7.5" fill="#bc002d"/><g transform="translate(0 13) scale(.68)" opacity=".75">${flagUS(id)}</g>`
};

// Slims the digit 1 so numeric runs keep a proportional look.
const slim=s=>s.replace(/1/g,'<i class="n1">1</i>');

// Keeps axis labels from showing below the time-axis rule on the price column.
const maskBelowAxis={id:'maskBelowAxis',afterDraw(c){const a=c.chartArea,x=c.ctx;x.save();x.fillStyle='#fff';x.fillRect(a.right+1,a.bottom,c.width-a.right,c.height-a.bottom);x.restore();}};

panels.forEach((p,idx)=>{
 const col=idx%3,row=Math.floor(idx/3),W=colRight[col]-colLeft[col],H=rowBottom[row]-rowTop[row],sep=axisX[col],plotH=plotBottom[row];
 const box=document.createElement('div');box.className='panel';
 box.style.cssText=`left:${colLeft[col]}px;top:${rowTop[row]}px;width:${W}px;height:${H}px`;
 document.body.appendChild(box);
 const rows=p.bars.map((r,i)=>({i,o:r[0],h:r[1],l:r[2],c:r[3]}));
 const last=rows[rows.length-1],tone=p.up?RED:GREEN,fix=v=>v.toFixed(p.dec);

 const add=(cls,css,html)=>{const d=document.createElement('div');d.className=cls;d.style.cssText=css;if(html!=null)d.innerHTML=html;box.appendChild(d);return d;};
 add('wm',`left:${p.wmAt[0]}px;top:${p.wmAt[1]}px;font-size:${p.wmSize[0]}px`,p.wm[0]);
 add('wm',`left:${p.wmAt[0]}px;top:${p.wmAt[2]}px;font-size:${p.wmSize[1]}px`,p.wm[1]);
 add('vline',`left:${sep-1}px;top:0;width:2px;height:${plotH}px`);
 add('hline',`left:0;top:${plotH-1}px;width:100%;height:3px`);
 const hx=[14,17,16][col];
 const ic=add('icon',`left:${hx}px;top:8px`);ic.innerHTML=`<svg width="40" height="40" viewBox="0 0 40 40">${ICONS[p.icon]('f'+idx)}</svg>`;
 add('head title',`left:${hx+49}px;top:9px`,`<span>${slim(p.title)}</span><span class="badge${p.badgeOpen?' open':''}"><i></i></span>`);
 const num=v=>`<b style="color:${tone}">${slim(v)}</b>`;
 add('head ohlc',`left:${hx+4}px;top:50px`,`<span>开=${num(fix(last.o))}</span><span>高=${num(fix(last.h))}</span><span>低=${num(fix(last.l))}</span><span>收=${num(fix(last.c))}</span>${num(p.change)}`);
 add('auto',`left:${[979,981,981][col]}px;top:${plotH+9}px`,'A');

 const cv=document.createElement('canvas');cv.width=W;cv.height=H;cv.style.width=W+'px';cv.style.height=H+'px';box.appendChild(cv);
 const xMin=-p.x0/p.step,xMax=(sep-p.x0)/p.step;
 const toneOf=r=>r.c>=r.o?RED:GREEN;
 const chart=new Chart(cv,{type:'bar',
  data:{datasets:[
   {type:'line',data:[{x:xMin,y:last.c},{x:xMax,y:last.c}],borderColor:tone,borderWidth:1.6,borderDash:[2,3],pointRadius:0,order:3},
   {data:rows.map(r=>({x:r.i,y:[r.l,r.h]})),backgroundColor:rows.map(toneOf),maxBarThickness:1.8,grouped:false,order:2},
   {data:rows.map(r=>({x:r.i,y:[r.o,r.c]})),backgroundColor:rows.map(toneOf),barPercentage:.74,categoryPercentage:1,minBarLength:2,grouped:false,order:1}
  ]},
  plugins:[maskBelowAxis],
  options:{responsive:false,animation:false,events:[],devicePixelRatio:1,
   layout:{padding:0,autoPadding:false},
   plugins:{legend:{display:false},tooltip:{enabled:false}},
   scales:{
    x:{type:'linear',min:xMin,max:xMax,offset:false,bounds:'data',
     afterBuildTicks:s=>{const g=p.grid.map(v=>({value:v}));s.ticks=[g[0]].concat(p.times.map(t=>({value:t[0],text:t[1]})),g.slice(1));},
     afterFit:s=>{s.height=H-plotH;s.paddingLeft=s.paddingRight=s.paddingTop=s.paddingBottom=0;},
     grid:{color:c=>c.tick&&c.tick.text?'rgba(0,0,0,0)':'#e0e3eb',lineWidth:2,offset:false,drawTicks:false},
     border:{display:false,dash:[11,9]},
     ticks:{autoSkip:false,maxRotation:0,minRotation:0,padding:17,color:'#131722',font:{size:25,family:FONT_FAMILY},callback:(v,i,t)=>t[i].text||''}},
    y:{type:'linear',position:'right',min:p.yMin,max:p.yMax,bounds:'data',
     afterBuildTicks:s=>{s.ticks=p.yTicks.map(v=>({value:v}));},
     afterFit:s=>{s.width=W-sep;s.paddingLeft=s.paddingRight=s.paddingTop=s.paddingBottom=0;},
     grid:{display:false,drawTicks:false},border:{display:false},
     // A blank first line nudges each price label down onto its level.
     ticks:{autoSkip:false,crossAlign:'center',padding:26,color:'#131722',font:{size:25,family:FONT_FAMILY,lineHeight:'4px'},callback:v=>['',fix(v)]}}
   }}});
 const ty=Math.round(chart.scales.y.getPixelForValue(last.c));
 add('tag',`left:${sep}px;right:${col===2?2:3}px;top:${ty-22}px;height:85px;max-height:${plotH-1-ty+22}px;overflow:hidden;background:${tone}`,`<div>${slim(fix(last.c))}</div><div>00:00:00</div>`);
});
const frame=document.createElement('div');frame.id='frame';document.body.appendChild(frame);
const brand=document.createElement('div');brand.id='brand';brand.textContent='TradingHero';document.body.appendChild(brand);
const mark=document.createElement('div');mark.id='mark';mark.textContent='飞机@okoRMT';document.body.appendChild(mark);
</script></body></html>
